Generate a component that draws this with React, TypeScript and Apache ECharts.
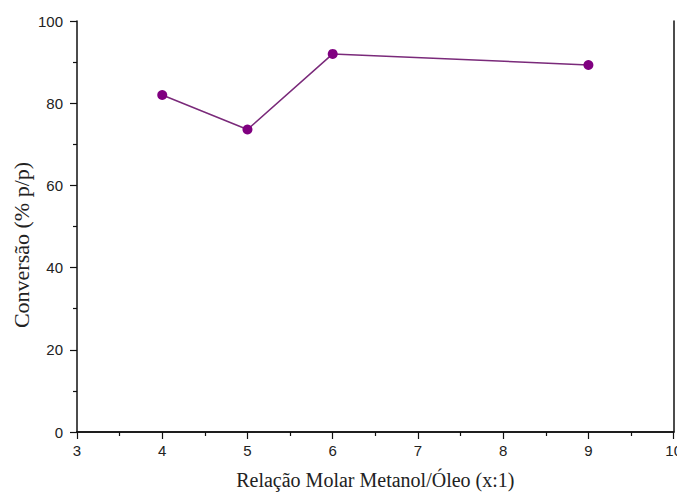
import React, { useEffect, useRef } from "react";
import * as echarts from "echarts";

const xValues = [4, 5, 6, 9];
const yValues = [82.0, 73.6, 92.0, 89.3];
const xTitle = "Relação Molar Metanol/Óleo (x:1)";
const yTitle = "Conversão (% p/p)";

export default function App() {
  const ref = useRef<HTMLDivElement>(null);
  useEffect(() => {
    if (!ref.current) return;
    const chart = echarts.init(ref.current, null, { renderer: "svg" });
    const axisLine = { show: true, lineStyle: { color: "#111", width: 1.5 } };
    chart.setOption({
      animation: false,
      backgroundColor: "#fff",
      grid: { left: 77, right: 8, top: 21, bottom: 59 },
      graphic: [
        {
          type: "text",
          x: 21,
          y: 245,
          rotation: Math.PI / 2,
          style: {
            text: yTitle,
            fontFamily: "Liberation Serif",
            fontSize: 22,
            fill: "#222",
            textAlign: "center",
            textVerticalAlign: "middle",
          },
        },
      ],
      xAxis: [
        {
          type: "value",
          min: 3,
          max: 10,
          interval: 1,
          position: "bottom",
          axisLine,
          axisTick: { show: true, length: 7, lineStyle: { color: "#111", width: 1.2 } },
          minorTick: { show: true, splitNumber: 2, length: 4, lineStyle: { color: "#111", width: 1.2 } },
          splitLine: { show: false },
          axisLabel: { color: "#222", fontFamily: "Liberation Sans", fontSize: 15, margin: 11 },
          name: xTitle,
          nameLocation: "middle",
          nameGap: 38,
          nameTextStyle: { fontFamily: "Liberation Serif", fontSize: 20, color: "#222" },
        },
        {
          type: "value",
          min: 3,
          max: 10,
          position: "top",
          axisLine,
          axisTick: { show: false },
          axisLabel: { show: false },
          splitLine: { show: false },
        },
      ],
      yAxis: [
        {
          type: "value",
          min: 0,
          max: 100,
          interval: 20,
          position: "left",
          axisLine,
          axisTick: { show: true, length: 7, lineStyle: { color: "#111", width: 1.2 } },
          minorTick: { show: true, splitNumber: 2, length: 4, lineStyle: { color: "#111", width: 1.2 } },
          splitLine: { show: false },
          axisLabel: { color: "#222", fontFamily: "Liberation Sans", fontSize: 15, margin: 14 },
        },
        {
          type: "value",
          min: 0,
          max: 100,
          position: "right",
          axisLine,
          axisTick: { show: false },
          axisLabel: { show: false },
          splitLine: { show: false },
        },
      ],
      series: [
        {
          type: "line",
          data: xValues.map((x, i) => [x, yValues[i]]),
          symbol: "circle",
          symbolSize: 10,
          itemStyle: { color: "#800080" },
          lineStyle: { color: "#7a2a7a", width: 1.5 },
        },
      ],
    });
    return () => chart.dispose();
  }, []);
  return <div ref={ref} style={{ width: 685, height: 495, marginLeft: -8, marginTop: -8 }} />;
}
